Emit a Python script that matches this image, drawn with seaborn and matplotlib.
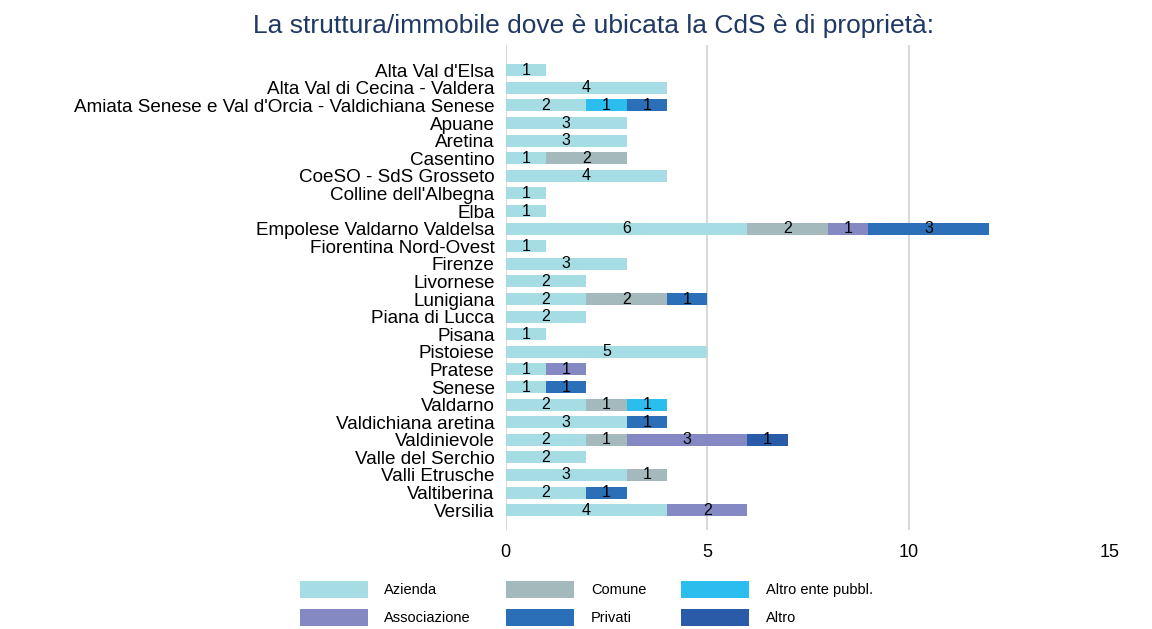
import numpy as np
import pandas as pd
import matplotlib
matplotlib.use("Agg")
import matplotlib.pyplot as plt
import seaborn as sns
from matplotlib.patches import Patch

zones = ["Alta Val d'Elsa", "Alta Val di Cecina - Valdera",
         "Amiata Senese e Val d'Orcia - Valdichiana Senese", "Apuane", "Aretina",
         "Casentino", "CoeSO - SdS Grosseto", "Colline dell'Albegna", "Elba",
         "Empolese Valdarno Valdelsa", "Fiorentina Nord-Ovest", "Firenze",
         "Livornese", "Lunigiana", "Piana di Lucca", "Pisana", "Pistoiese",
         "Pratese", "Senese", "Valdarno", "Valdichiana aretina", "Valdinievole",
         "Valle del Serchio", "Valli Etrusche", "Valtiberina", "Versilia"]

azienda      = [1, 4, 2, 3, 3, 1, 4, 1, 1, 6, 1, 3, 2, 2, 2, 1, 5, 1, 1, 2, 3, 2, 2, 3, 2, 4]
comune       = [0, 0, 0, 0, 0, 2, 0, 0, 0, 2, 0, 0, 0, 2, 0, 0, 0, 0, 0, 1, 0, 1, 0, 1, 0, 0]
altro_ente   = [0, 0, 1, 0, 0, 0, 0, 0, 0, 0, 0, 0, 0, 0, 0, 0, 0, 0, 0, 1, 0, 0, 0, 0, 0, 0]
associazione = [0, 0, 0, 0, 0, 0, 0, 0, 0, 1, 0, 0, 0, 0, 0, 0, 0, 1, 0, 0, 0, 3, 0, 0, 0, 2]
privati      = [0, 0, 1, 0, 0, 0, 0, 0, 0, 3, 0, 0, 0, 1, 0, 0, 0, 0, 1, 0, 1, 0, 0, 0, 1, 0]
altro        = [0, 0, 0, 0, 0, 0, 0, 0, 0, 0, 0, 0, 0, 0, 0, 0, 0, 0, 0, 0, 0, 1, 0, 0, 0, 0]

series_names = ["Azienda", "Comune", "Altro ente pubbl.", "Associazione", "Privati", "Altro"]
series_vals = [azienda, comune, altro_ente, associazione, privati, altro]
colors = ["#a6dde4", "#a3b9bc", "#2bbdee", "#8488c3", "#2b6fb8", "#2a5ba8"]

sns.set_style("white")
plt.rcParams['font.family'] = ['Liberation Sans', 'DejaVu Sans']
plt.rcParams['text.color'] = 'black'
plt.rcParams['xtick.color'] = 'black'
plt.rcParams['ytick.color'] = 'black'

df = pd.DataFrame(dict(zip(series_names, series_vals)), index=zones)
cum = df.cumsum(axis=1)

fig = plt.figure(figsize=(11.52, 6.29), dpi=100)
ax = fig.add_axes([0.439, 0.157, 0.5245, 0.771])

# stacked bars: draw cumulative totals from the top layer down
for name, col in reversed(list(zip(series_names, colors))):
    d = pd.DataFrame({"zona": zones, "val": cum[name].values})
    sns.barplot(data=d, x="val", y="zona", order=zones, color=col, saturation=1,
                width=0.68, orient="h", ax=ax, linewidth=0, zorder=3)

# segment labels
for i, z in enumerate(zones):
    start = 0
    for name in series_names:
        v = df.loc[z, name]
        if v > 0:
            ax.text(start + v / 2, i, str(v), ha="center", va="center",
                    fontsize=11.5, color="black", zorder=4)
        start += v

ax.set_xlim(0, 15)
ax.set_ylim(25 + 1.14, -1.42)
ax.set_xticks([0, 5, 10, 15])
ax.set_xticklabels(["0", "5", "10", "15"], fontsize=13)
ax.tick_params(axis="x", length=0, pad=10, labelcolor="black")
ax.tick_params(axis="y", length=0, pad=8, labelsize=13.6, labelcolor="black")
for xv in [0, 5, 10]:
    ax.axvline(xv, color="#d9d9d9", lw=1.5, zorder=1)
ax.set_xlabel("")
ax.set_ylabel("")
for s in ax.spines.values():
    s.set_visible(False)

fig.suptitle("La struttura/immobile dove è ubicata la CdS è di proprietà:",
             fontsize=19, color="#1f3864", x=0.515, y=0.978)

order = [0, 3, 1, 4, 2, 5]
handles = [Patch(facecolor=colors[k], edgecolor="none") for k in order]
labels = [series_names[k] for k in order]
fig.legend(handles, labels, ncol=3, loc="center", bbox_to_anchor=(0.509, 0.041),
           frameon=False, fontsize=10.5, handlelength=4.66, handleheight=1.4,
           handletextpad=1.16, columnspacing=2.4, labelspacing=0.75)

fig.savefig("out.png", dpi=100)
